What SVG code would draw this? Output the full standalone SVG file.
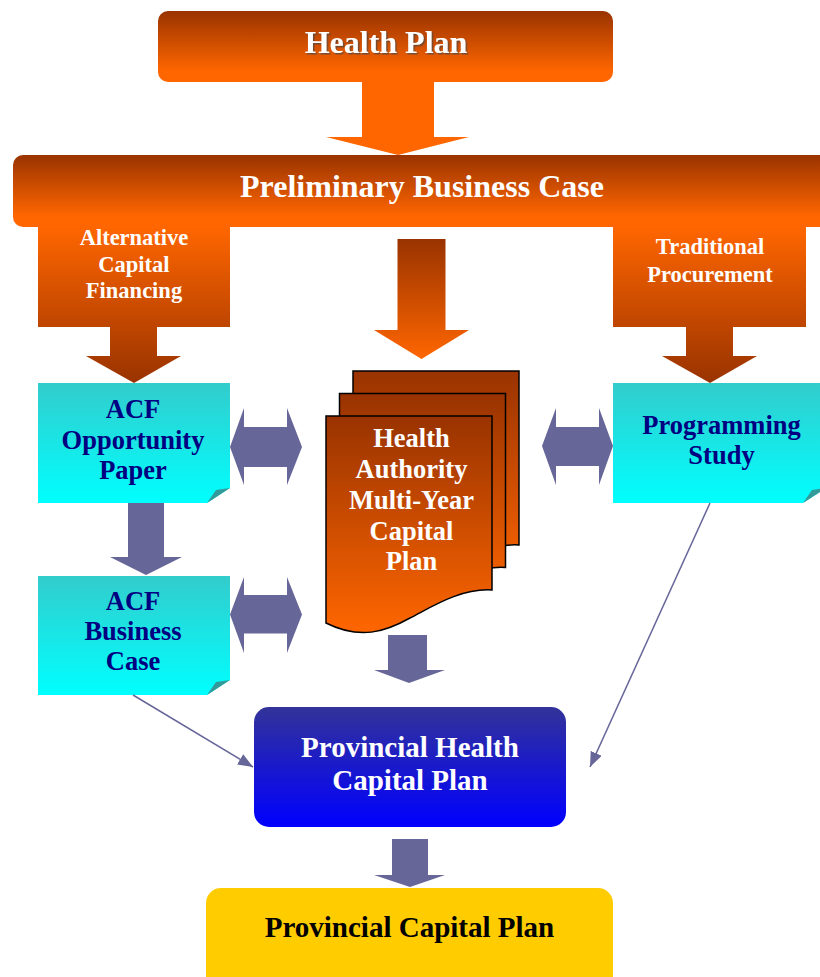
<svg xmlns="http://www.w3.org/2000/svg" width="820" height="977" viewBox="0 0 820 977">
<defs>
  <linearGradient id="gOrangeDown" x1="0" y1="0" x2="0" y2="1">
    <stop offset="0" stop-color="#993300"/>
    <stop offset="0.85" stop-color="#ff6600"/>
    <stop offset="1" stop-color="#ff6600"/>
  </linearGradient>
  <linearGradient id="gDoc" x1="0" y1="0" x2="0" y2="1">
    <stop offset="0" stop-color="#993300"/>
    <stop offset="1" stop-color="#ff6600"/>
  </linearGradient>
  <linearGradient id="gBranch" gradientUnits="userSpaceOnUse" x1="0" y1="227" x2="0" y2="383">
    <stop offset="0" stop-color="#ff6600"/>
    <stop offset="1" stop-color="#993300"/>
  </linearGradient>
  <linearGradient id="gCenter" gradientUnits="userSpaceOnUse" x1="0" y1="239" x2="0" y2="359">
    <stop offset="0" stop-color="#993300"/>
    <stop offset="1" stop-color="#ff6600"/>
  </linearGradient>
  <linearGradient id="gCyan" x1="0" y1="0" x2="0" y2="1">
    <stop offset="0" stop-color="#33cccc"/>
    <stop offset="1" stop-color="#00ffff"/>
  </linearGradient>
  <linearGradient id="gBlue" x1="0" y1="0" x2="0" y2="1">
    <stop offset="0" stop-color="#333399"/>
    <stop offset="1" stop-color="#0000ff"/>
  </linearGradient>
  <filter id="shadow" x="-10%" y="-20%" width="120%" height="150%">
    <feDropShadow dx="1.5" dy="1.5" stdDeviation="0.6" flood-color="#444444" flood-opacity="0.7"/>
  </filter>
  <marker id="arrow" viewBox="0 0 10 8" refX="10" refY="4" markerWidth="10" markerHeight="8" orient="auto" markerUnits="strokeWidth">
    <path d="M0,0 L10,4 L0,8 z" fill="#666699"/>
  </marker>
  <style>
    text { font-family: "Liberation Serif", "Times New Roman", serif; font-weight: bold; text-anchor: middle; }
    .white { fill: #ffffff; }
    .navy { fill: #000080; font-size: 26.5px; }
    .branch { font-size: 22.5px; }
    .big { font-size: 32px; }
    .mid { font-size: 29px; }
    .doc { font-size: 26.5px; }
    .purple { fill: #666699; }
    .fold { fill: #339999; }
    .page { fill: url(#gDoc); stroke: #000000; stroke-width: 1.5; }
    .conn { stroke: #666699; stroke-width: 1.5; fill: none; marker-end: url(#arrow); }
  </style>
</defs>

<g id="health-plan">
  <rect x="158" y="11" width="455" height="71" rx="10" fill="url(#gOrangeDown)"/>
  <text class="big white" x="386" y="53" filter="url(#shadow)">Health Plan</text>
</g>

<g id="arrow-hp">
  <path d="M362,82 H434 V137 H469 L398,155 L326,137 H362 Z" fill="#ff6600"/>
</g>

<g id="preliminary-business-case">
  <rect x="13" y="155" width="830" height="72" rx="10" fill="url(#gOrangeDown)"/>
  <text class="big white" x="422" y="197">Preliminary Business Case</text>
</g>

<g id="branch-acf">
  <path d="M38,227 H230 V327 H157 V356 H181 L134,383 L86,356 H110 V327 H38 Z" fill="url(#gBranch)"/>
  <text class="branch white" x="134" y="245">Alternative</text>
  <text class="branch white" x="134" y="272">Capital</text>
  <text class="branch white" x="134" y="298">Financing</text>
</g>

<g id="branch-center">
  <path d="M397.5,239 H445.5 V330 H469 L421.5,359 L374,330 H397.5 Z" fill="url(#gCenter)"/>
</g>

<g id="branch-traditional">
  <path d="M613,227 H806 V327 H733 V356 H757 L710,383 L662,356 H686 V327 H613 Z" fill="url(#gBranch)"/>
  <text class="branch white" x="710" y="254">Traditional</text>
  <text class="branch white" x="710" y="282">Procurement</text>
</g>

<g id="acf-opportunity-paper">
  <path d="M38,383 H230 V488 L207,503 H38 Z" fill="url(#gCyan)"/>
  <path d="M207,503 L216,490 L230,488 Z" class="fold"/>
  <text class="navy" x="133" y="418">ACF</text>
  <text class="navy" x="133" y="448.5">Opportunity</text>
  <text class="navy" x="133" y="478.5">Paper</text>
</g>

<g id="acf-business-case">
  <path d="M38,576 H230 V680 L207,695 H38 Z" fill="url(#gCyan)"/>
  <path d="M207,695 L216,682 L230,680 Z" class="fold"/>
  <text class="navy" x="133" y="609.5">ACF</text>
  <text class="navy" x="133" y="639.5">Business</text>
  <text class="navy" x="133" y="670">Case</text>
</g>

<g id="programming-study">
  <path d="M613,383 H826 V488 L803,503 H613 Z" fill="url(#gCyan)"/>
  <path d="M803,503 L812,490 L826,488 Z" class="fold"/>
  <text class="navy" x="721.5" y="433.5">Programming</text>
  <text class="navy" x="721.5" y="464">Study</text>
</g>

<g id="health-authority-plan">
  <path class="page" transform="translate(27,-45)" d="M326,623 V416 H492 V590 C460,588 430,608 410,618 C385,632 360,640 326,623 Z"/>
  <path class="page" transform="translate(13.5,-22.5)" d="M326,623 V416 H492 V590 C460,588 430,608 410,618 C385,632 360,640 326,623 Z"/>
  <path class="page" d="M326,623 V416 H492 V590 C460,588 430,608 410,618 C385,632 360,640 326,623 Z"/>
  <text class="doc white" x="411.5" y="447">Health</text>
  <text class="doc white" x="411.5" y="478">Authority</text>
  <text class="doc white" x="411.5" y="508.5">Multi-Year</text>
  <text class="doc white" x="411.5" y="539.5">Capital</text>
  <text class="doc white" x="411.5" y="570">Plan</text>
</g>

<g id="provincial-health-capital-plan">
  <rect x="254" y="707" width="312" height="120" rx="15" fill="url(#gBlue)"/>
  <text class="mid white" x="410" y="756.5">Provincial Health</text>
  <text class="mid white" x="410" y="790">Capital Plan</text>
</g>

<g id="provincial-capital-plan">
  <rect x="206" y="888" width="407" height="115" rx="15" fill="#ffcc00"/>
  <text class="mid" x="409.5" y="937" fill="#000000">Provincial Capital Plan</text>
</g>

<g id="connectors">
  <path class="purple" d="M230,447 L244,408 V427 H287 V408 L302,447 L287,485 V467 H244 V485 Z"/>
  <path class="purple" d="M230,614.5 L244,577 V595 H287 V577 L302,614.5 L287,653 V633.5 H244 V653 Z"/>
  <path class="purple" d="M542,446 L556,408 V427 H599 V408 L613,446 L599,485 V466 H556 V485 Z"/>
  <path class="purple" d="M128,503 H164 V557 H182 L146,575 L110,557 H128 Z"/>
  <path class="purple" d="M388,635 H427 V670 H445 L409,683 L374,670 H388 Z"/>
  <path class="purple" d="M392,839 H428 V875 H445 L410,887 L374,875 H392 Z"/>
  <line class="conn" x1="133" y1="695" x2="253" y2="767"/>
  <line class="conn" x1="710" y1="503" x2="590" y2="767"/>
</g>
</svg>
